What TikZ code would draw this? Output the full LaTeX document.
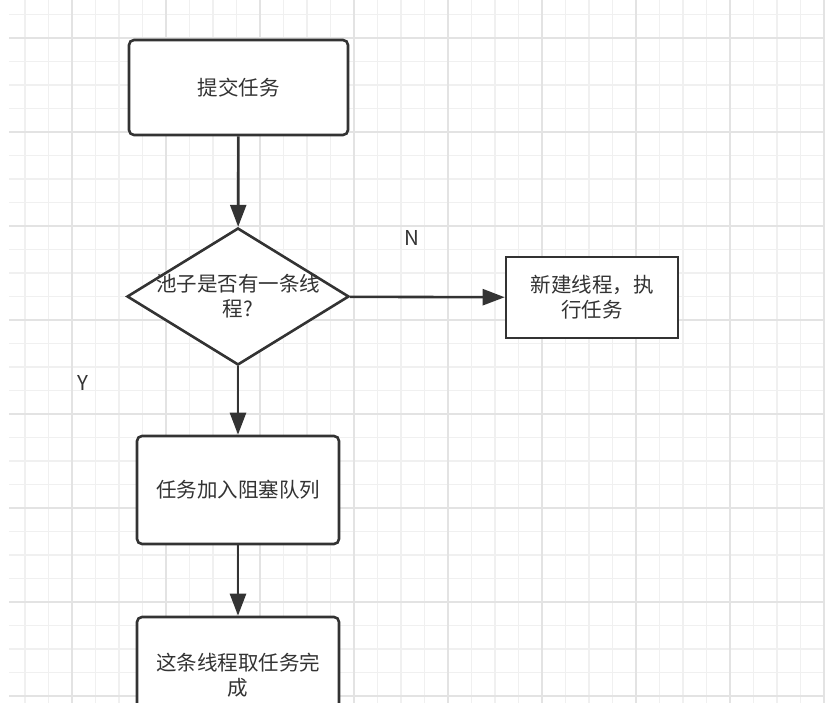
\documentclass[tikz,border=0pt]{standalone}
\usepackage{fontspec}
\setmainfont{Noto Sans CJK SC}
\usetikzlibrary{shapes.geometric,arrows.meta}

\definecolor{inkgray}{HTML}{333333}
\definecolor{gridminor}{HTML}{F0F0F0}
\definecolor{gridmajor}{HTML}{E3E3E3}

\tikzset{
  procbox/.style={draw=inkgray,line width=2.6pt,rounded corners=5pt,fill=white,inner sep=0pt},
  plainbox/.style={draw=inkgray,line width=2.6pt,fill=white,inner sep=0pt,align=center},
  decision/.style={draw=inkgray,line width=2.6pt,diamond,fill=white,inner sep=0pt},
  flow/.style={draw=inkgray,line width=2.6pt,-{Triangle[width=16pt,length=22pt]}},
}

\begin{document}
\begin{tikzpicture}[x=1pt,y=-1pt,every node/.style={font=\fontsize{20.5}{25}\selectfont,text=inkgray}]
    \useasboundingbox (0,0) rectangle (825,703);
    % background grid
    \begin{scope}
      \clip (9,0) rectangle (825,703);
      \foreach \i in {-3,...,32} \draw[gridminor,line width=1.2pt] (72+\i*23.5,0) -- ++(0,703);
      \foreach \j in {-1,...,28} \draw[gridminor,line width=1.2pt] (9,38+\j*23.5) -- ++(816,0);
      \foreach \i in {0,...,8} \draw[gridmajor,line width=1.2pt] (72+\i*94,0) -- ++(0,703);
      \foreach \j in {0,...,7} \draw[gridmajor,line width=1.2pt] (9,38+\j*94) -- ++(816,0);
    \end{scope}

    \node[procbox,minimum width=219pt,minimum height=95pt] (submit) at (238.5,87.5) {提交任务};
    \node[decision,minimum width=222pt,minimum height=137pt] (chk) at (238,296.5) {};
    \node[align=center] (chktext) at (chk.center) {池子是否有一条线\\程?};
    \node[plainbox,minimum width=172pt,minimum height=81pt] (newth) at (592,297.5) {新建线程，执\\行任务};
    \node[procbox,minimum width=202pt,minimum height=108pt] (enq) at (238,490) {任务加入阻塞队列};
    \node[procbox,align=center,minimum width=202pt,minimum height=116pt] (take) at (238,675) {这条线程取任务完\\成};

    \node (lblN) at (412,238) {N};
    \node (lblY) at (83,383) {Y};

    \draw[flow] (submit) -- (chk);
    \draw[flow] (chk) -- (newth);
    \draw[flow] (chk) -- (enq);
    \draw[flow] (enq) -- (take);
  \end{tikzpicture}
\end{document}
